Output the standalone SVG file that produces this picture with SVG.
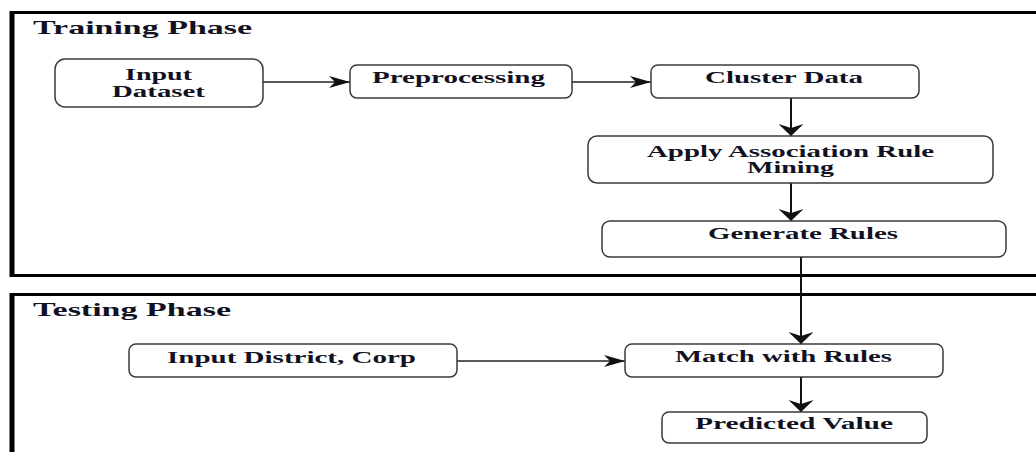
<svg xmlns="http://www.w3.org/2000/svg" width="1036" height="452" viewBox="0 0 1036 452">
<style>
.frame{fill:none;stroke:#000;stroke-width:3}
.fleft{stroke:#000;stroke-width:5}
.box{fill:#fff;stroke:#3a3a3a;stroke-width:1.5}
.t{font-family:"Liberation Serif","Times New Roman",serif;font-weight:bold;font-size:16px;fill:#111122}
.title{font-family:"Liberation Serif","Times New Roman",serif;font-weight:bold;font-size:19px;fill:#111122}
.h{fill:none;stroke:#222;stroke-width:1.3}
.v{fill:none;stroke:#111;stroke-width:2}
</style>
<defs>
<marker id="ah" markerUnits="userSpaceOnUse" markerWidth="24" markerHeight="16" viewBox="-22 -8 24 16" refX="0" refY="0" orient="auto">
<path d="M0,0 L-21,-6 L-15,0 L-21,6 Z" fill="#111"/>
</marker>
<marker id="av" markerUnits="userSpaceOnUse" markerWidth="16" markerHeight="28" viewBox="-14 -14 16 28" refX="0" refY="0" orient="auto">
<path d="M0,0 L-12,-12.5 L-8,0 L-12,12.5 Z" fill="#111"/>
</marker>
</defs>
<rect width="1036" height="452" fill="#fff"/>

<g id="training-frame">
<line class="frame" x1="10" y1="12.5" x2="1036" y2="12.5"/>
<line class="frame" x1="10" y1="275.5" x2="1036" y2="275.5"/>
<line class="fleft" x1="12" y1="11" x2="12" y2="277"/>
<text class="title" x="33" y="34" textLength="219" lengthAdjust="spacingAndGlyphs">Training Phase</text>
</g>

<g id="testing-frame">
<line class="frame" x1="10" y1="294.5" x2="1036" y2="294.5"/>
<line class="fleft" x1="12" y1="293" x2="12" y2="452"/>
<text class="title" x="33" y="316" textLength="198" lengthAdjust="spacingAndGlyphs">Testing Phase</text>
</g>

<g id="connectors">
<line class="h" x1="263" y1="82" x2="350" y2="82" marker-end="url(#ah)"/>
<line class="h" x1="572" y1="82" x2="651" y2="82" marker-end="url(#ah)"/>
<line class="v" x1="791" y1="98" x2="791" y2="136" marker-end="url(#av)"/>
<line class="v" x1="791" y1="183" x2="791" y2="221" marker-end="url(#av)"/>
<line class="v" x1="801" y1="257" x2="801" y2="344" marker-end="url(#av)"/>
<line class="h" x1="457" y1="361" x2="625" y2="361" marker-end="url(#ah)"/>
<line class="v" x1="801" y1="377" x2="801" y2="412" marker-end="url(#av)"/>
</g>

<g id="input-dataset">
<rect class="box" x="55" y="59" width="208" height="48" rx="10"/>
<text class="t" x="125" y="80" textLength="67" lengthAdjust="spacingAndGlyphs">Input</text>
<text class="t" x="112" y="97" textLength="93" lengthAdjust="spacingAndGlyphs">Dataset</text>
</g>

<g id="preprocessing">
<rect class="box" x="350" y="65" width="222" height="33" rx="7"/>
<text class="t" x="372" y="83" textLength="173" lengthAdjust="spacingAndGlyphs">Preprocessing</text>
</g>

<g id="cluster-data">
<rect class="box" x="651" y="65" width="268" height="33" rx="7"/>
<text class="t" x="705" y="83" textLength="158" lengthAdjust="spacingAndGlyphs">Cluster Data</text>
</g>

<g id="apply-arm">
<rect class="box" x="588" y="136" width="405" height="47" rx="9"/>
<text class="t" x="647" y="157" textLength="287" lengthAdjust="spacingAndGlyphs">Apply Association Rule</text>
<text class="t" x="747" y="173" textLength="87" lengthAdjust="spacingAndGlyphs">Mining</text>
</g>

<g id="generate-rules">
<rect class="box" x="602" y="221" width="404" height="36" rx="8"/>
<text class="t" x="708" y="239" textLength="190" lengthAdjust="spacingAndGlyphs">Generate Rules</text>
</g>

<g id="input-district">
<rect class="box" x="129" y="344" width="328" height="33" rx="7"/>
<text class="t" x="167" y="363" textLength="249" lengthAdjust="spacingAndGlyphs">Input District, Corp</text>
</g>

<g id="match-rules">
<rect class="box" x="625" y="344" width="318" height="33" rx="7"/>
<text class="t" x="675" y="362" textLength="217" lengthAdjust="spacingAndGlyphs">Match with Rules</text>
</g>

<g id="predicted-value">
<rect class="box" x="662" y="412" width="265" height="31" rx="7"/>
<text class="t" x="695" y="429" textLength="198" lengthAdjust="spacingAndGlyphs">Predicted Value</text>
</g>
</svg>
